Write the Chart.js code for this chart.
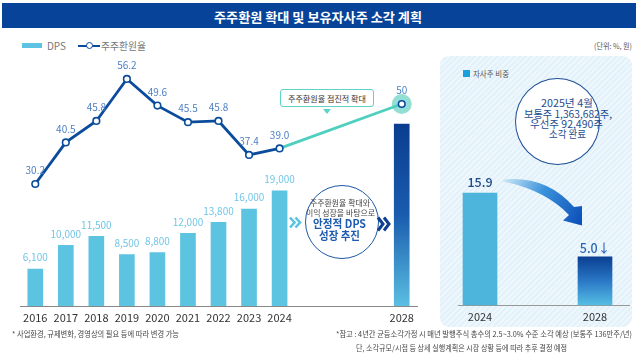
<!DOCTYPE html>
<html><head><meta charset="utf-8">
<script src="https://cdn.jsdelivr.net/npm/chart.js@4.4.1/dist/chart.umd.min.js"></script>
<style>
html,body{margin:0;padding:0;width:640px;height:357px;overflow:hidden;background:#fff;font-family:"Noto Sans CJK KR","Noto Sans",sans-serif;}
.abs{position:absolute;}
.t{position:absolute;white-space:nowrap;line-height:1;transform-origin:0 50%;transform:translateY(-50%);}
#title{left:2px;top:3px;width:634px;height:25px;background:#074499;}
#panel{left:440px;top:56px;width:192px;height:271px;border-radius:9px;background:repeating-linear-gradient(135deg,#e2f1fa 0 2px,#edf7fc 2px 4px);}
canvas{position:absolute;left:0;top:0;}
</style></head>
<body>
<div id="title" class="abs"></div>
<div class="t" data-w="208" style="left:214px;top:15.5px;font-size:13px;font-weight:700;color:#fff">주주환원 확대 및 보유자사주 소각 계획</div>

<div class="abs" style="left:22px;top:43px;width:20px;height:5px;background:#5cc3e0"></div>
<div class="t" data-w="19" style="left:47px;top:45.5px;font-size:10px;color:#777">DPS</div>
<div class="abs" style="left:78px;top:44.5px;width:22px;height:2px;background:#0a4b9c"></div>
<div class="abs" style="left:85.5px;top:41.5px;width:5px;height:5px;border:1.5px solid #0a4b9c;border-radius:50%;background:#fff"></div>
<div class="t" data-w="45" style="left:101px;top:45.5px;font-size:10px;color:#777">주주환원율</div>
<div class="t" data-w="38" style="left:594px;top:46px;font-size:7.5px;color:#555">(단위: %, 원)</div>

<div id="panel" class="abs"></div>
<div class="abs" style="left:463px;top:70px;width:7px;height:7px;background:#1aa0dc"></div>
<div class="t" data-w="36" style="left:473px;top:73.5px;font-size:8px;color:#555">자사주 비중</div>
<div class="abs" style="left:515px;top:78px;width:83px;height:85px;border:1.5px solid #1d4f96;border-radius:50%;background:#fff"></div>
<div class="t" data-w="52" style="left:541px;top:103px;font-size:10px;color:#1d4c8f">2025년 4월</div>
<div class="t" data-w="88" style="left:524px;top:113.5px;font-size:10px;color:#1d4c8f">보통주 1,363,682주,</div>
<div class="t" data-w="73" style="left:530px;top:123.5px;font-size:10px;color:#1d4c8f">우선주 92,490주</div>
<div class="t" data-w="37" style="left:549px;top:133.5px;font-size:10px;color:#1d4c8f">소각 완료</div>
<div class="abs" style="left:458px;top:305px;width:172px;height:1px;background:#999"></div>
<svg class="abs" style="left:0;top:0" width="640" height="357">
  <defs><linearGradient id="ag" x1="503" y1="180" x2="582" y2="222" gradientUnits="userSpaceOnUse">
    <stop offset="0" stop-color="#cde9f7"/><stop offset="0.45" stop-color="#3b92dc"/><stop offset="1" stop-color="#0b4fb8"/></linearGradient></defs>
  <path d="M503,179.5 Q546,175 574,207 L582,206 L582,225.5 L563,220.5 L569,215 Q545,190 503,181.5 Z" fill="url(#ag)"/>
</svg>

<canvas id="c1" width="640" height="357"></canvas>
<canvas id="c2" width="640" height="357"></canvas>

<div class="abs" style="left:280px;top:89px;width:92px;height:16px;border:1.5px solid #5fd3c6;border-radius:3px;background:#fff"></div>
<div class="t" data-w="78" style="left:288px;top:98.3px;font-size:8.5px;color:#333">주주환원율 점진적 확대</div>
<div class="abs" style="left:323px;top:108.5px;width:0;height:0;border-left:4.5px solid transparent;border-right:4.5px solid transparent;border-top:5px solid #5fd3c6"></div>

<div class="abs" style="left:305px;top:185px;width:72px;height:72px;border:1.5px solid #1c58a8;border-radius:50%;background:#fff"></div>
<div class="t" data-w="60" style="left:310px;top:203.3px;font-size:7.5px;color:#444">주주환원율 확대와</div>
<div class="t" data-w="69" style="left:306px;top:212.7px;font-size:7.5px;color:#444">이익 성장을 바탕으로</div>
<div class="t" data-w="53" style="left:313px;top:223.5px;font-size:11.5px;font-weight:700;color:#1c5bb0">안정적 DPS</div>
<div class="t" data-w="41" style="left:319px;top:235.5px;font-size:11.5px;font-weight:700;color:#1c5bb0">성장 추진</div>
<svg class="abs" style="left:288px;top:216px" width="15" height="13"><path d="M2 1.5 L6.5 6.5 L2 11.5 M7.5 1.5 L12 6.5 L7.5 11.5" stroke="#5cc3e0" stroke-width="2.6" fill="none"/></svg>
<svg class="abs" style="left:376px;top:216px" width="16" height="16"><path d="M2 1.5 L7 8 L2 14.5 M8 1.5 L13 8 L8 14.5" stroke="#0d3f91" stroke-width="3" fill="none"/></svg>

<div class="t" data-w="167" style="left:12px;top:334px;font-size:7.5px;color:#444">* 사업환경, 규제변화, 경영상의 필요 등에 따라 변경 가능</div>
<div class="t" data-w="296" style="left:336px;top:334px;font-size:7.5px;color:#444">*참고 : 4년간 균등소각가정 시 매년 발행주식 총수의 2.5~3.0% 수준 소각 예상 (보통주 136만주/년)</div>
<div class="t" data-w="211" style="left:356px;top:348px;font-size:7.5px;color:#444">단, 소각규모/시점 등 상세 실행계획은 시장 상황 등에 따라 추후 결정 예정</div>

<script>
// ---- data ----
const years = ['2016','2017','2018','2019','2020','2021','2022','2023','2024','','','','2028'];
const dps = [6100,10000,11500,8500,8800,12000,13800,16000,19000,null,null,null,30000];
const dpsLabels = ['6,100','10,000','11,500','8,500','8,800','12,000','13,800','16,000','19,000','','','',''];
const payout = [30.2,40.5,45.8,56.2,49.6,45.5,45.8,37.4,39.0,null,null,null,50];
const payoutLabels = ['30.2','40.5','45.8','56.2','49.6','45.5','45.8','37.4','39.0','','','','50'];
const tsYears = ['2024','2028'];
const treasury = [15.9, 5.0];
const treasuryLabels = ['15.9','5.0↓'];

document.querySelectorAll('[data-w]').forEach(el=>{
  const w = el.getBoundingClientRect().width;
  el.style.transform = 'translateY(-50%) scaleX(' + (+el.dataset.w / w) + ')';
});

Chart.defaults.font.family = '"Noto Sans CJK KR","Noto Sans",sans-serif';
const DARK = '#0a4b9c', TEAL = '#4ecfbf';

const leftPlugin = {
  id: 'leftLabels',
  beforeDatasetsDraw(chart) {
    const p = chart.getDatasetMeta(1).data[12];
    const c = chart.ctx; c.save();
    c.fillStyle = 'rgba(120,215,202,0.8)';
    c.beginPath(); c.arc(p.x, p.y, 10, 0, Math.PI*2); c.fill();
    c.restore();
  },
  afterDatasetsDraw(chart) {
    const c = chart.ctx; c.save();
    c.textAlign = 'center'; c.textBaseline = 'middle';
    c.font = '10px "Noto Sans CJK KR"'; c.fillStyle = '#72c6e6';
    chart.getDatasetMeta(0).data.forEach((el,i)=>{ if (dpsLabels[i]) c.fillText(dpsLabels[i], el.x, el.y - 11.5); });
    c.fillStyle = '#4d7fc4';
    chart.getDatasetMeta(1).data.forEach((el,i)=>{ if (payoutLabels[i]) c.fillText(payoutLabels[i], el.x, el.y - 13.5); });
    c.restore();
  }
};

new Chart(document.getElementById('c1'), {
  data: {
    labels: years,
    datasets: [
      { type:'bar', data: dps, yAxisID:'yBar', order:1, barThickness:15,
        backgroundColor: (ctx) => {
          if (ctx.dataIndex !== 12) return '#5cc3e0';
          const ch = ctx.chart, a = ch.chartArea;
          if (!a || !ch.scales.yBar) return '#0b3f92';
          const y0 = ch.scales.yBar.getPixelForValue(dps[12]);
          const g = ch.ctx.createLinearGradient(0, y0, 0, a.bottom);
          g.addColorStop(0, '#0a3d90'); g.addColorStop(0.5, '#1a5cae'); g.addColorStop(1, '#5bbfe2');
          return g;
        } },
      { type:'line', data: payout, yAxisID:'yLine', order:0, spanGaps:true,
        borderWidth:2.8, borderColor: DARK,
        segment: { borderColor: (ctx) => ctx.p0DataIndex >= 8 ? TEAL : DARK },
        pointRadius:3.3, pointBackgroundColor:'#fff', pointBorderColor:DARK, pointBorderWidth:1.6,
        clip:false, tension:0 }
    ]
  },
  options: {
    responsive:false, animation:false,
    layout: { padding: { left:20, right:223, top:63.6, bottom:21 } },
    plugins: { legend:{display:false}, tooltip:{enabled:false} },
    scales: {
      x: { grid:{display:false, drawTicks:false}, border:{display:true, color:'#888', width:1},
           ticks:{ color:'#333', font:{size:11}, padding:5, autoSkip:false, maxRotation:0 },
           afterFit: (s) => { s.height = 30; } },
      yBar: { display:false, min:0, max:40000 },
      yLine: { display:false, min:0, max:60 }
    }
  },
  plugins: [leftPlugin]
});

const rightPlugin = {
  id: 'rightLabels',
  afterDatasetsDraw(chart) {
    const c = chart.ctx; c.save();
    c.textAlign = 'center'; c.textBaseline = 'middle';
    const m = chart.getDatasetMeta(0).data;
    c.font = '500 12.5px "Noto Sans CJK KR"'; c.fillStyle = '#1f4b86';
    c.fillText(treasuryLabels[0], m[0].x, m[0].y - 11);
    c.fillStyle = '#2a66b6';
    c.fillText(treasuryLabels[1], m[1].x, m[1].y - 9);
    c.restore();
  }
};

new Chart(document.getElementById('c2'), {
  type: 'bar',
  data: {
    labels: tsYears,
    datasets: [{ data: treasury, base: -3.2, barThickness:34, clip:false,
      backgroundColor: (ctx) => {
        if (ctx.dataIndex === 0) return '#4db4dc';
        const ch = ctx.chart, a = ch.chartArea;
        if (!a || !ch.scales.y) return '#0b3f92';
        const y0 = ch.scales.y.getPixelForValue(treasury[1]);
        const g = ch.ctx.createLinearGradient(0, y0, 0, a.bottom);
        g.addColorStop(0, '#0b3f92'); g.addColorStop(0.5, '#2a78c6'); g.addColorStop(1, '#55bde3');
        return g;
      } }]
  },
  options: {
    responsive:false, animation:false,
    layout: { padding: { left:480, right:45, top:160.2, bottom:22 } },
    plugins: { legend:{display:false}, tooltip:{enabled:false} },
    scales: {
      x: { offset:false, grid:{display:false, drawTicks:false}, border:{display:false},
           ticks:{ color:'#333', font:{size:11}, padding:5, maxRotation:0 },
           afterFit: (s) => { s.height = 30; } },
      y: { display:false, min:-3.2, max:21.5 }
    }
  },
  plugins: [rightPlugin]
});
</script>
</body></html>
